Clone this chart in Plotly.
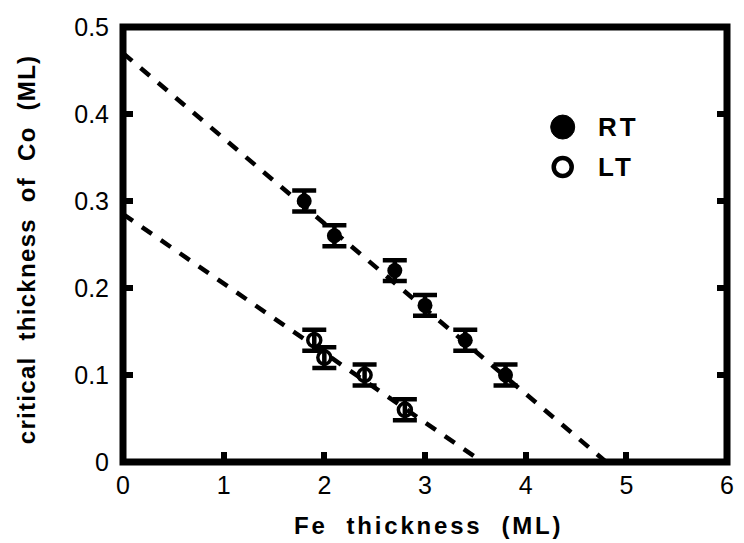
import plotly.graph_objects as go

# ---- data ----
rt_x = [1.8, 2.1, 2.7, 3.0, 3.4, 3.8]
rt_y = [0.30, 0.26, 0.22, 0.18, 0.14, 0.10]
rt_err = [0.012, 0.012, 0.012, 0.012, 0.012, 0.012]

lt_x = [1.9, 2.0, 2.4, 2.8]
lt_y = [0.14, 0.12, 0.10, 0.06]
lt_err = [0.012, 0.012, 0.012, 0.012]

rt_fit_x = [0.0, 4.8]
rt_fit_y = [0.47, 0.0]
lt_fit_x = [0.0, 3.57]
lt_fit_y = [0.285, 0.0]

x_tick_vals = [0, 1, 2, 3, 4, 5, 6]
x_tick_text = ["0", "1", "2", "3", "4", "5", "6"]
y_tick_vals = [0, 0.1, 0.2, 0.3, 0.4, 0.5]
y_tick_text = ["0", "0.1", "0.2", "0.3", "0.4", "0.5"]

legend_labels = ["RT", "LT"]
x_title = "Fe\u00a0 thickness\u00a0 (ML)"
y_title = "critical\u00a0 thickness\u00a0 of\u00a0 Co\u00a0 (ML)"

FONT = "Liberation Sans, Arial, Helvetica, sans-serif"

fig = go.Figure()

dash = "12px,11px"
fig.add_trace(go.Scatter(x=rt_fit_x, y=rt_fit_y, mode="lines",
                         line=dict(color="black", width=4.5, dash=dash),
                         hoverinfo="skip"))
fig.add_trace(go.Scatter(x=lt_fit_x, y=lt_fit_y, mode="lines",
                         line=dict(color="black", width=4.5, dash=dash),
                         hoverinfo="skip"))

fig.add_trace(go.Scatter(x=rt_x, y=rt_y, mode="markers", name=legend_labels[0],
                         marker=dict(symbol="circle", size=15, color="black"),
                         error_y=dict(type="data", array=rt_err, visible=True,
                                      color="black", thickness=4.5, width=12)))
fig.add_trace(go.Scatter(x=lt_x, y=lt_y, mode="markers", name=legend_labels[1],
                         marker=dict(symbol="circle-open", size=13, color="black",
                                     line=dict(width=3.5, color="black")),
                         error_y=dict(type="data", array=lt_err, visible=True,
                                      color="black", thickness=4.5, width=12)))

# frame
fig.add_shape(type="rect", xref="paper", yref="paper", x0=0, x1=1, y0=0, y1=1,
              line=dict(color="black", width=7), layer="above")

# legend (drawn manually: large symbols)
leg_x = 0.728
leg_y = [0.770, 0.678]
fig.add_shape(type="circle", xref="paper", yref="paper", xsizemode="pixel", ysizemode="pixel",
              xanchor=leg_x, yanchor=leg_y[0], x0=-12, x1=12, y0=-12, y1=12,
              fillcolor="black", line=dict(color="black", width=1))
fig.add_shape(type="circle", xref="paper", yref="paper", xsizemode="pixel", ysizemode="pixel",
              xanchor=leg_x, yanchor=leg_y[1], x0=-9, x1=9, y0=-9, y1=9,
              fillcolor="rgba(0,0,0,0)", line=dict(color="black", width=4.5))
for lab, yy in zip(legend_labels, leg_y):
    fig.add_annotation(xref="paper", yref="paper", x=0.783, y=yy, xanchor="left", yanchor="middle",
                       text='<b><span style="letter-spacing:3px">%s</span></b>' % lab,
                       showarrow=False, font=dict(family=FONT, size=26, color="black"))

# axis titles
fig.add_annotation(xref="paper", yref="paper", x=(432 - 123) / 611, y=-0.145,
                   xanchor="center", yanchor="middle", showarrow=False,
                   text='<b><span style="letter-spacing:2.8px">%s</span></b>' % x_title,
                   font=dict(family=FONT, size=24, color="black"))
fig.add_annotation(xref="paper", yref="paper", x=-0.16, y=0.49,
                   xanchor="center", yanchor="middle", showarrow=False, textangle=-90,
                   text='<b><span style="letter-spacing:1.3px">%s</span></b>' % y_title,
                   font=dict(family=FONT, size=24, color="black"))

fig.update_xaxes(range=[0, 6], tickvals=x_tick_vals, ticktext=x_tick_text,
                 ticks="inside", ticklen=10, tickwidth=6, tickcolor="black",
                 showgrid=False, zeroline=False, showline=False, mirror=False,
                 ticklabelstandoff=6,
                 tickfont=dict(family=FONT, size=25, color="black"))
fig.update_yaxes(range=[0, 0.5], tickvals=y_tick_vals, ticktext=y_tick_text,
                 ticks="inside", ticklen=10, tickwidth=6, tickcolor="black",
                 showgrid=False, zeroline=False, showline=False, mirror="ticks",
                 ticklabelstandoff=13,
                 tickfont=dict(family=FONT, size=25, color="black"))

fig.update_layout(width=744, height=543, showlegend=False,
                  margin=dict(l=123, r=10, t=27, b=81),
                  paper_bgcolor="white", plot_bgcolor="white")

fig.write_html("out.html")
